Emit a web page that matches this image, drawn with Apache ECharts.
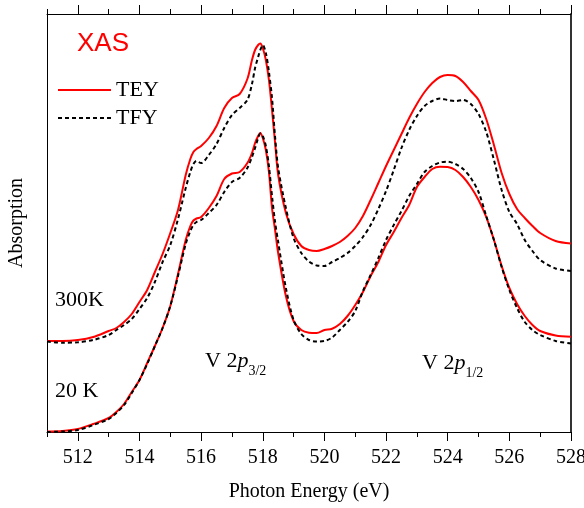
<!DOCTYPE html>
<html>
<head>
<meta charset="utf-8">
<script src="https://cdn.jsdelivr.net/npm/echarts@6/dist/echarts.min.js"></script>
<style>
  html, body { margin: 0; padding: 0; background: #fff; }
  #chart { width: 584px; height: 508px; }
</style>
</head>
<body>
<div id="chart"></div>
<script>
// photon energy grid (eV)
const energy = [511, 511.5, 512, 512.5, 513, 513.25, 513.5, 513.75, 514, 514.25, 514.5, 514.75,
  515, 515.25, 515.5, 515.65, 515.75, 515.85, 516, 516.25, 516.5, 516.75,
  517, 517.25, 517.5, 517.65, 517.75, 517.85, 517.92, 518, 518.1, 518.2, 518.3, 518.4, 518.5, 518.75,
  519, 519.25, 519.5, 519.75, 520, 520.25, 520.5, 520.75, 521, 521.25, 521.5, 521.75,
  522, 522.25, 522.5, 522.75, 523, 523.25, 523.5, 523.75, 524, 524.25, 524.5, 524.75,
  525, 525.25, 525.5, 525.75, 526, 526.25, 526.5, 526.75, 527, 527.5, 528]

// absorption, arbitrary units (curves offset vertically)
const tey300 = [91, 91, 92, 95, 101, 104, 110, 118, 130, 142, 160, 178,
  199, 222, 257, 273, 280, 283, 286, 294, 306, 324,
  334, 338, 353, 372, 382, 387, 388.5, 384, 372, 352, 322, 289, 257, 219,
  198, 186, 182, 181, 183, 186, 190, 196, 204, 216, 232, 249,
  266, 282, 298, 314, 328, 340, 349, 355, 357, 356, 350, 341,
  332, 313, 287, 259, 238, 223, 214, 206, 199, 191, 188.5]

const tfy300 = [90.5, 89.3, 89.7, 92, 97, 102, 107, 113, 123, 134, 150, 170,
  187, 213, 244, 260, 268, 271, 269, 277, 288, 304,
  317, 324, 332, 348, 364, 375, 382, 387, 379, 360, 334, 295, 264, 224,
  194, 179, 170.5, 166.5, 166, 170, 174, 179, 186, 195, 207, 223,
  241, 262, 284, 302, 316, 326, 331, 333.5, 332, 331, 332, 328,
  318, 300, 272, 242, 220, 208, 192, 181, 172, 163.5, 161]

const tey20 = [0.5, 1, 3, 8, 14, 20, 28, 40, 52, 69, 86, 104,
  126, 158, 192, 206, 211.5, 213.5, 215, 224, 236, 253,
  258.5, 260, 269, 279, 289, 296, 299, 294, 282, 260, 224, 202, 179, 136,
  111, 102, 99.3, 99, 102, 103.3, 108, 116, 127, 140, 156, 170,
  187, 200, 214, 227, 245, 255, 263, 265.3, 265, 262, 255, 245,
  232, 215, 192, 166, 144, 128, 116, 107, 101, 96.5, 95.3]

const tfy20 = [0, 0.5, 2, 7, 13, 19, 27, 39, 52, 68, 86, 104,
  126, 156, 188, 201, 207, 210, 212, 219, 227, 240,
  250, 254, 264, 275, 284, 294, 298.5, 296, 286, 266, 236, 210, 190, 144,
  112, 98, 92, 90.5, 91, 94.5, 102, 110, 121, 141, 157, 174,
  192, 207, 221, 236, 248, 260, 266, 269.5, 270.3, 268, 263, 254,
  240, 216, 192, 165, 142, 124, 110, 102, 97, 91, 88.5]

const majorTicks = [512, 514, 516, 518, 520, 522, 524, 526, 528]
const minorTicks = [511, 513, 515, 517, 519, 521, 523, 525, 527]

const serif = '"Liberation Serif", "Times New Roman", serif'
const pair = arr => energy.map((e, i) => [e, arr[i]])

const tickAxis = (position, values, len, showLine) => ({
  type: 'value',
  position: position,
  min: 511,
  max: 528,
  axisLine: { show: showLine, onZero: false, lineStyle: { color: '#000', width: 1 } },
  axisTick: { show: true, customValues: values, length: len, lineStyle: { color: '#000', width: 1 } },
  axisLabel: { show: false },
  splitLine: { show: false }
})

const chart = echarts.init(document.getElementById('chart'))
const option = {
  animation: false,
  backgroundColor: '#fff',
  grid: { left: 47, right: 13, top: 14, bottom: 76, containLabel: false, outerBoundsMode: 'none' },
  legend: {
    data: ['TEY', 'TFY'],
    orient: 'vertical',
    left: 57,
    top: 79,
    padding: 0,
    itemWidth: 53,
    itemHeight: 14,
    itemGap: 6,
    itemStyle: { opacity: 0 },
    textStyle: { fontFamily: serif, fontSize: 22, color: '#000', lineHeight: 22 }
  },
  xAxis: [
    {
      type: 'value',
      position: 'bottom',
      min: 511,
      max: 528,
      axisLine: { onZero: false, lineStyle: { color: '#000', width: 1 } },
      axisTick: { customValues: majorTicks, length: 9, lineStyle: { color: '#000' } },
      axisLabel: { customValues: majorTicks, fontFamily: serif, fontSize: 20, color: '#000', margin: 16 },
      splitLine: { show: false },
      name: 'Photon Energy (eV)',
      nameLocation: 'middle',
      nameGap: 50,
      nameTextStyle: { fontFamily: serif, fontSize: 20, color: '#000' }
    },
    tickAxis('bottom', minorTicks, 5, false),
    tickAxis('top', majorTicks, 9, true),
    tickAxis('top', minorTicks, 5, false)
  ],
  yAxis: [
    {
      type: 'value',
      position: 'left',
      min: 0,
      max: 418,
      axisLine: { show: true, onZero: false, lineStyle: { color: '#000', width: 1 } },
      axisTick: { show: false },
      axisLabel: { show: false },
      splitLine: { show: false },
      name: 'Absorption',
      nameLocation: 'middle',
      nameGap: 20,
      nameTextStyle: { fontFamily: serif, fontSize: 20, color: '#000' }
    },
    {
      type: 'value',
      position: 'right',
      min: 0,
      max: 418,
      axisLine: { show: true, onZero: false, lineStyle: { color: '#333', width: 2 } },
      axisTick: { show: false },
      axisLabel: { show: false },
      splitLine: { show: false }
    }
  ],
  series: [
    { name: 'TEY', type: 'line', data: pair(tey300), symbol: 'none', smooth: 0.3, lineStyle: { color: '#ff0000', width: 2 }, itemStyle: { color: '#ff0000' } },
    { name: 'TEY', type: 'line', data: pair(tey20), symbol: 'none', smooth: 0.3, lineStyle: { color: '#ff0000', width: 2 }, itemStyle: { color: '#ff0000' } },
    { name: 'TFY', type: 'line', data: pair(tfy300), symbol: 'none', smooth: 0.3, lineStyle: { color: '#000', width: 2, type: [4, 3] }, itemStyle: { color: '#000' } },
    { name: 'TFY', type: 'line', data: pair(tfy20), symbol: 'none', smooth: 0.3, lineStyle: { color: '#000', width: 2, type: [4, 3] }, itemStyle: { color: '#000' } }
  ],
  graphic: [
    { type: 'text', x: 77, y: 44, style: { text: 'XAS', font: '26px "Liberation Sans", Arial, sans-serif', fill: '#ff0000', align: 'left', verticalAlign: 'middle' } },
    { type: 'text', x: 55, y: 300, style: { text: '300K', font: '22px ' + serif, fill: '#000', align: 'left', verticalAlign: 'middle' } },
    { type: 'text', x: 55, y: 391, style: { text: '20 K', font: '22px ' + serif, fill: '#000', align: 'left', verticalAlign: 'middle' } },
    {
      type: 'text', x: 205, y: 344,
      style: {
        text: '{a|V 2}{b|p}{c|3/2}',
        rich: {
          a: { fontFamily: serif, fontSize: 22, lineHeight: 34, verticalAlign: 'middle', fill: '#000' },
          b: { fontFamily: serif, fontSize: 22, fontStyle: 'italic', lineHeight: 34, verticalAlign: 'middle', fill: '#000' },
          c: { fontFamily: serif, fontSize: 14, lineHeight: 34, verticalAlign: 'bottom', fill: '#000' }
        }
      }
    },
    {
      type: 'text', x: 422, y: 346,
      style: {
        text: '{a|V 2}{b|p}{c|1/2}',
        rich: {
          a: { fontFamily: serif, fontSize: 22, lineHeight: 34, verticalAlign: 'middle', fill: '#000' },
          b: { fontFamily: serif, fontSize: 22, fontStyle: 'italic', lineHeight: 34, verticalAlign: 'middle', fill: '#000' },
          c: { fontFamily: serif, fontSize: 14, lineHeight: 34, verticalAlign: 'bottom', fill: '#000' }
        }
      }
    }
  ]
}
chart.setOption(option)
</script>
</body>
</html>
